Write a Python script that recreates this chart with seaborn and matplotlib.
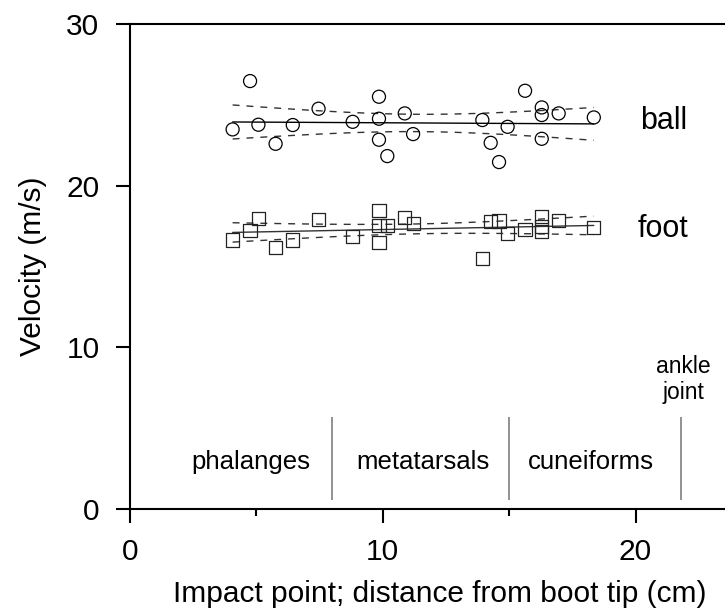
import numpy as np
import pandas as pd
import matplotlib
matplotlib.use('Agg')
import matplotlib.pyplot as plt
import seaborn as sns

# ── Data: impact point along the boot and resulting velocities ─────────

impact_cm = [4.06, 4.75, 5.08, 5.76, 6.44, 7.46, 8.81, 9.85, 9.85, 9.85,
             10.18, 10.87, 11.20, 13.94, 14.27, 14.60, 14.94, 15.63,
             16.29, 16.29, 16.29, 16.96, 18.35]

ball_velocity = [23.48, 26.47, 23.77, 22.59, 23.75, 24.76, 23.95, 25.50,
                 24.14, 22.84, 21.83, 24.47, 23.19, 24.06, 22.65, 21.46,
                 23.64, 25.87, 24.84, 24.37, 22.90, 24.47, 24.22]

foot_velocity = [16.64, 17.21, 17.98, 16.18, 16.64, 17.93, 16.84, 18.45,
                 17.56, 16.47, 17.56, 18.04, 17.67, 15.50, 17.77, 17.81,
                 17.05, 17.30, 18.08, 17.46, 17.15, 17.87, 17.40]

region_names = ['phalanges', 'metatarsals', 'cuneiforms']
region_bounds = [8.0, 15.0, 21.8]

T_95 = 2.080   # t value, 95 %, 21 degrees of freedom


def fit_with_ci(x, y, n_grid=100):
    # straight line fit plus 95% confidence band of the mean
    x = np.asarray(x, dtype=float)
    y = np.asarray(y, dtype=float)
    n = len(x)
    slope, intercept = np.polyfit(x, y, 1)
    resid = y - (slope * x + intercept)
    s = np.sqrt(np.sum(resid ** 2) / (n - 2))
    sxx = np.sum((x - x.mean()) ** 2)
    xg = np.linspace(x.min(), x.max(), n_grid)
    yg = slope * xg + intercept
    half = T_95 * s * np.sqrt(1.0 / n + (xg - x.mean()) ** 2 / sxx)
    return pd.DataFrame({'x': xg, 'fit': yg, 'lo': yg - half, 'hi': yg + half})


# ── Style ─────────────────────────────────────────────────────────────

sns.set_style('ticks')
plt.rcParams['font.family'] = ['Liberation Sans', 'DejaVu Sans']
plt.rcParams['text.color'] = 'black'
plt.rcParams['axes.labelcolor'] = 'black'
plt.rcParams['xtick.color'] = 'black'
plt.rcParams['ytick.color'] = 'black'

fig = plt.figure(figsize=(7.25, 6.11), dpi=100)
ax = fig.add_axes([130 / 725, 102 / 611, 595 / 725, 485 / 611])

# ── Points and fits ───────────────────────────────────────────────────

series = [(ball_velocity, 'o', 88, 'black', 'black'),
          (foot_velocity, 's', 90, '#222222', '#333333')]

for vals, mk, size, edge, line_col in series:
    band = fit_with_ci(impact_cm, vals)
    for col in ['lo', 'hi']:
        sns.lineplot(data=band, x='x', y=col, ax=ax, color='#333333',
                     linewidth=1.0, linestyle=(0, (5, 5)), estimator=None,
                     sort=False, zorder=2)
    sns.lineplot(data=band, x='x', y='fit', ax=ax, color=line_col,
                 linewidth=1.0, estimator=None, sort=False, zorder=2)
    sns.scatterplot(x=impact_cm, y=vals, ax=ax, marker=mk, s=size,
                    facecolor='none', edgecolor=edge, linewidth=0.9,
                    zorder=3)

ax.text(21.1, 24.0, 'ball', fontsize=22, ha='center', va='center')
ax.text(21.1, 17.3, 'foot', fontsize=22, ha='center', va='center')

# ── Foot regions ──────────────────────────────────────────────────────

ax.vlines(region_bounds, 0.56, 5.71, color='#7f7f7f', linewidth=1.2)
for name, xc in zip(region_names, [4.8, 11.58, 18.24]):
    ax.text(xc, 2.93, name, fontsize=18.5, ha='center', va='center')
ax.text(21.88, 8.0, 'ankle\njoint', fontsize=16.5, ha='center',
        va='center', linespacing=1.15)

# ── Axes ──────────────────────────────────────────────────────────────

ax.set_xlim(0, 23.54)
ax.set_ylim(0, 30)
ax.set_xticks([0, 10, 20])
ax.set_xticks([5, 15], minor=True)
ax.set_yticks([0, 10, 20, 30])
ax.tick_params(axis='both', which='major', length=10, width=1.5,
               labelsize=21.5, pad=11, color='black')
ax.tick_params(axis='y', pad=12)
ax.tick_params(axis='x', which='minor', length=5, width=1.5, color='black')

for side in ['left', 'bottom', 'top']:
    ax.spines[side].set_linewidth(1.5)
    ax.spines[side].set_color('black')
ax.spines['right'].set_visible(False)

ax.set_xlabel('Impact point; distance from boot tip (cm)', fontsize=21.5)
ax.set_ylabel('Velocity (m/s)', fontsize=21.5)
ax.xaxis.set_label_coords(0.52, -0.146)
ax.yaxis.set_label_coords(-0.14, 0.5)

fig.savefig('out.png', dpi=100)
